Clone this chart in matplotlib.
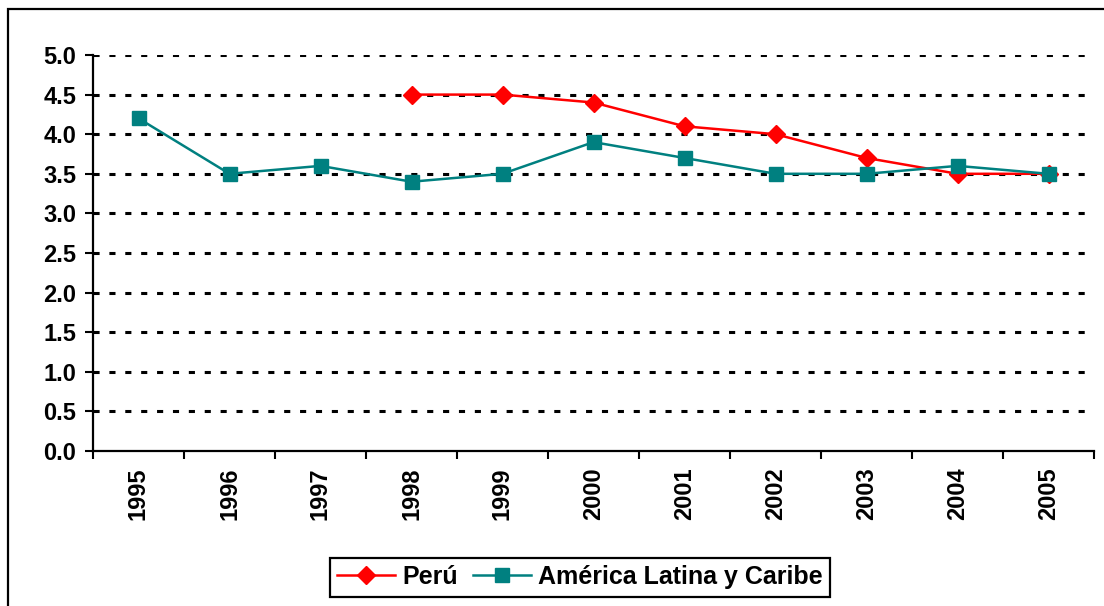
import numpy as np
import matplotlib
matplotlib.use('Agg')
import matplotlib.pyplot as plt
from matplotlib.patches import Rectangle

plt.rcParams['font.family'] = ['Liberation Sans', 'DejaVu Sans']
plt.rcParams['font.weight'] = 'bold'

years = ['1995', '1996', '1997', '1998', '1999', '2000', '2001', '2002', '2003', '2004', '2005']
peru_years = ['1998', '1999', '2000', '2001', '2002', '2003', '2004', '2005']
peru = [4.5, 4.5, 4.4, 4.1, 4.0, 3.7, 3.5, 3.5]
latam = [4.2, 3.5, 3.6, 3.4, 3.5, 3.9, 3.7, 3.5, 3.5, 3.6, 3.5]
yticks = [0.0, 0.5, 1.0, 1.5, 2.0, 2.5, 3.0, 3.5, 4.0, 4.5, 5.0]

fig = plt.figure(figsize=(11.04, 6.06), dpi=100)
# outer chart border (clipped at right and bottom like the source)
fig.patches.append(Rectangle((8 / 1104, -0.05), 1.2, 1 - 9 / 606 + 0.05,
                             transform=fig.transFigure, fill=False,
                             edgecolor='black', linewidth=1.6))

ax = fig.add_axes([93 / 1104, 1 - 451 / 606, 1001 / 1104, 396 / 606])

x_all = np.arange(len(years))
x_peru = [years.index(y) for y in peru_years]

for yv in yticks[1:]:
    ax.axhline(yv, color='black', lw=2.2, linestyle=(0, (2, 3.2)), zorder=1)

ax.plot(x_peru, peru, color='#FF0000', lw=1.8, marker='D', markersize=9,
        label='Perú', zorder=3)
ax.plot(x_all, latam, color='#008080', lw=1.8, marker='s', markersize=10,
        label='América Latina y Caribe', zorder=3)

ax.set_xlim(-0.5, len(years) - 0.5)
ax.set_ylim(0, 5.0)
ax.set_yticks(yticks)
ax.set_yticklabels([f'{v:.1f}' for v in yticks])
ax.set_xticks(np.arange(len(years) + 1) - 0.5)
ax.set_xticklabels([])
ax.set_xticks(x_all, minor=True)
ax.set_xticklabels(years, minor=True, rotation=90)
ax.tick_params(axis='x', which='minor', length=0, pad=12)
ax.tick_params(axis='x', which='major', length=6, width=1.5, direction='out')
ax.tick_params(axis='y', length=6, width=1.5, direction='out', pad=6)
ax.tick_params(which='both', labelsize=17)

for s in ['top', 'right']:
    ax.spines[s].set_visible(False)
for s in ['left', 'bottom']:
    ax.spines[s].set_linewidth(1.6)

leg = fig.legend(loc='center', bbox_to_anchor=(580 / 1104, 1 - 577 / 606),
                 ncol=2, fontsize=18, frameon=True, fancybox=False,
                 edgecolor='black', framealpha=1, handlelength=2.3,
                 columnspacing=0.6, handletextpad=0.3, borderpad=0.3)
leg.get_frame().set_linewidth(1.6)

fig.savefig('out.png', dpi=100)
